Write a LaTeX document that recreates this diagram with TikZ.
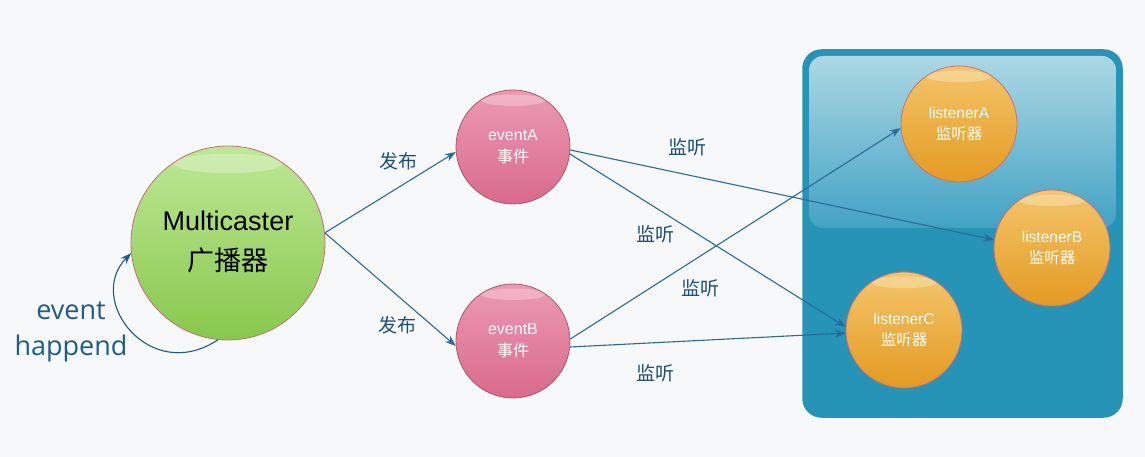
\documentclass[tikz,border=0pt]{standalone}
\usepackage{fontspec}
\setmainfont{Liberation Sans}
\newfontfamily\cjk{Noto Sans CJK SC}
\newfontfamily\loopfont{Open Sans}
\usetikzlibrary{arrows.meta,calc}

\definecolor{bgc}{HTML}{F7F8F9}
\definecolor{linkc}{HTML}{2C6A9A}
\definecolor{labelc}{HTML}{1C4F7C}
\definecolor{loopc}{HTML}{1E5C8A}
\definecolor{greenTop}{HTML}{BDE896}
\definecolor{greenBot}{HTML}{88C84C}
\definecolor{pinkTop}{HTML}{EC9AB3}
\definecolor{pinkBot}{HTML}{D96A8D}
\definecolor{orangeTop}{HTML}{F4C56A}
\definecolor{orangeBot}{HTML}{E49A22}
\definecolor{rimc}{HTML}{C8707A}
\definecolor{panelEdge}{HTML}{2A93B5}
\definecolor{panelFill}{HTML}{2594B6}
\definecolor{glossTop}{HTML}{ACD8E4}
\definecolor{glossBot}{HTML}{42A2C4}

\begin{document}
\begin{tikzpicture}[x=1pt,y=-1pt,
  ball/.style={circle, draw=rimc, line width=0.8pt, inner sep=0pt, align=center,
    path picture={
      \fill[white,opacity=.28]
        let \p1=(path picture bounding box.center),
            \p2=(path picture bounding box.north),
            \n1={\y2-\y1} in
        ($(\p1)!0.82!(\p2)$) ellipse [x radius=0.56*\n1, y radius=0.10*\n1];
    }},
  mcball/.style={ball, minimum size=194pt, top color=greenTop, bottom color=greenBot,
    font=\fontsize{27}{35}\selectfont, text=black},
  evball/.style={ball, minimum size=114pt, top color=pinkTop, bottom color=pinkBot,
    draw=pinkBot!80!black, font=\fontsize{16}{22}\selectfont, text=white},
  lsball/.style={ball, minimum size=116pt, top color=orangeTop, bottom color=orangeBot,
    draw=rimc, font=\fontsize{15.5}{21}\selectfont, text=white},
  conn/.style={draw=linkc, line width=1.1pt, -{Stealth[length=11pt,width=8pt]}},
  tag/.style={text=labelc, font=\cjk\fontsize{19}{22}\selectfont, inner sep=1pt},
  panelbox/.style={draw=panelEdge, line width=2.5pt, fill=panelFill, rounded corners=18pt,
    minimum width=318pt, minimum height=366pt, inner sep=0pt}
]
\fill[bgc] (0,0) rectangle (1145,457);
\useasboundingbox (0,0) rectangle (1145,457);

% listener panel with its glossy upper half
\node[panelbox] (panel) at (962.5,233.5) {};
\shade[top color=glossTop, bottom color=glossBot, rounded corners=14pt]
  (809,56) rectangle (1116,228);

% circles
\node[mcball] (mc) at (228,243)
  {\raisebox{10pt}{\begin{tabular}{@{}c@{}}Multicaster\\[5pt]{\cjk 广播器}\end{tabular}}};
\node[evball] (evA) at (513,147) {eventA\\{\cjk 事件}};
\node[evball] (evB) at (513,341) {eventB\\{\cjk 事件}};
\node[lsball] (lA) at (959,124) {listenerA\\{\cjk 监听器}};
\node[lsball] (lB) at (1052,248) {listenerB\\{\cjk 监听器}};
\node[lsball] (lC) at (904,330) {listenerC\\{\cjk 监听器}};

% publishing
\draw[conn] (mc.6) -- (evA.185);
\draw[conn] (mc.6) -- (evB.185);

% listening
\draw[conn] (evA.-3) -- (lB.172);
\draw[conn] (evA.-7) -- (lC.177);
\draw[conn] (evB.2) -- (lA.184);
\draw[conn] (evB.-6) -- (lC.183);

% edge labels
\node[tag] (pubA) at (398,161) {发布};
\node[tag] (pubB) at (397,325) {发布};
\node[tag] (lisA) at (687,147) {监听};
\node[tag] (lisB) at (655,234) {监听};
\node[tag] (lisC) at (700,288) {监听};
\node[tag] (lisD) at (655,373) {监听};

% self trigger loop
\draw[draw=loopc, line width=1.1pt, -{Stealth[length=11pt,width=8pt]}]
  (mc.264) .. controls (150,385) and (85,300) .. (mc.186);
\node[text=loopc, font=\loopfont\fontsize{27}{36}\selectfont, align=center] (trig)
  at (71,332) {event\\happend};
\end{tikzpicture}
\end{document}
